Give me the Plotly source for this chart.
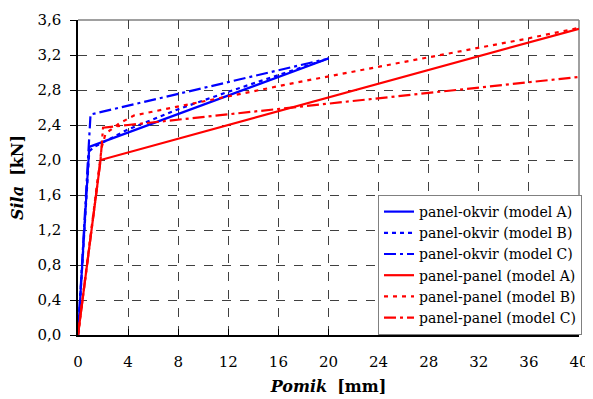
import plotly.graph_objects as go

# Data (Pomik [mm], Sila [kN])
po_A_x = [0, 0.9, 20]
po_A_y = [0, 2.15, 3.16]
po_B_x = [0, 0.9, 1.3, 4, 8, 12, 16, 20]
po_B_y = [0, 2.1, 2.15, 2.35, 2.58, 2.78, 2.97, 3.16]
po_C_x = [0, 0.9, 1.0, 20]
po_C_y = [0, 2.38, 2.52, 3.16]
pp_A_x = [0, 1.8, 40]
pp_A_y = [0, 2.0, 3.5]
pp_B_x = [0, 1.8, 1.9, 2.2, 3.3, 4.5, 11.6, 17.6, 26, 35.6, 40]
pp_B_y = [0, 2.0, 2.15, 2.3, 2.42, 2.51, 2.72, 2.89, 3.12, 3.38, 3.51]
pp_C_x = [0, 1.8, 2.0, 4, 40]
pp_C_y = [0, 2.0, 2.37, 2.40, 2.95]

names = ["panel-okvir (model A)", "panel-okvir (model B)", "panel-okvir (model C)",
         "panel-panel (model A)", "panel-panel (model B)", "panel-panel (model C)"]

x_ticks = [0, 4, 8, 12, 16, 20, 24, 28, 32, 36, 40]
y_ticks = [0, 0.4, 0.8, 1.2, 1.6, 2.0, 2.4, 2.8, 3.2, 3.6]

series = [
    (po_A_x, po_A_y, "#0000FF", "solid"),
    (po_B_x, po_B_y, "#0000FF", "4px,4px"),
    (po_C_x, po_C_y, "#0000FF", "12px,4px,3px,4px"),
    (pp_A_x, pp_A_y, "#FF0000", "solid"),
    (pp_B_x, pp_B_y, "#FF0000", "4px,5px"),
    (pp_C_x, pp_C_y, "#FF0000", "12px,4px,3px,4px"),
]

fig = go.Figure()
for (xs, ys, col, dash), nm in zip(series, names):
    fig.add_trace(go.Scatter(x=xs, y=ys, mode="lines", name=nm,
                             line=dict(color=col, width=2.2, dash=dash)))

FF = "DejaVu Serif"

fig.update_layout(
    width=585, height=391,
    margin=dict(l=70, r=11, t=12, b=64),
    paper_bgcolor="white", plot_bgcolor="white",
    separators=",.",
    font=dict(family=FF, size=15, color="black"),
    showlegend=True,
    legend=dict(x=1.006, y=0.0, xanchor="right", yanchor="bottom",
                bgcolor="white", bordercolor="#808080", borderwidth=1,
                font=dict(family=FF, size=14, color="black"),
                tracegroupgap=0, itemwidth=30),
)

fig.update_xaxes(
    range=[0, 40], tickvals=x_ticks, ticktext=[str(v) for v in x_ticks],
    showgrid=True, gridcolor="#404040", griddash="dash", gridwidth=1,
    showline=True, linecolor="black", linewidth=1.5,
    ticks="inside", ticklen=6, tickcolor="black",
    zeroline=False, automargin=False, ticklabelstandoff=12,
    tickfont=dict(family=FF, size=15),
    title=dict(text="<b><i>Pomik</i></b>  <b>[mm]</b>",
               font=dict(family=FF, size=16), standoff=11),
)
fig.update_yaxes(
    range=[0, 3.6], tickvals=y_ticks, tickformat=".1f",
    showgrid=True, gridcolor="#404040", griddash="dash", gridwidth=1,
    showline=True, linecolor="black", linewidth=1.5,
    ticks="outside", ticklen=6, tickcolor="black",
    zeroline=False, automargin=False, ticklabelstandoff=6,
    tickfont=dict(family=FF, size=15),
    title=dict(text="<b><i>Sila</i></b>  <b>[kN]</b>",
               font=dict(family=FF, size=16), standoff=12),
)

# plot-area border (top and right in gray)
fig.add_shape(type="line", xref="paper", yref="paper", x0=0, x1=1, y0=1, y1=1,
              line=dict(color="#808080", width=1.5), layer="below")
fig.add_shape(type="line", xref="paper", yref="paper", x0=1, x1=1, y0=0, y1=1,
              line=dict(color="#808080", width=1.5), layer="below")

fig.write_html("out.html")
